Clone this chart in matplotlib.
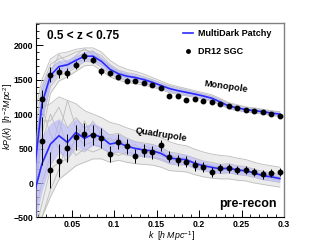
import numpy as np
import matplotlib
matplotlib.use("Agg")
import matplotlib.pyplot as plt
from matplotlib.ticker import MultipleLocator, FixedLocator

plt.rcParams['font.family'] = ['Liberation Sans', 'DejaVu Sans']
plt.rcParams['mathtext.fontset'] = 'custom'
plt.rcParams['mathtext.it'] = 'Liberation Sans:italic'
plt.rcParams['mathtext.rm'] = 'Liberation Sans'

# ---------------- data ----------------
k_model = [0.005, 0.015, 0.025, 0.035, 0.045, 0.055, 0.065, 0.075, 0.085, 0.095,
           0.105, 0.115, 0.125, 0.135, 0.145, 0.155, 0.165, 0.175, 0.185, 0.195,
           0.205, 0.215, 0.225, 0.235, 0.245, 0.255, 0.265, 0.275, 0.285, 0.295]

mono_mean = [50, 1150, 1560, 1690, 1715, 1780, 1840, 1840, 1765, 1650,
             1585, 1550, 1530, 1500, 1460, 1415, 1370, 1340, 1315, 1290,
             1262, 1230, 1175, 1115, 1090, 1065, 1050, 1035, 1015, 1000]
mono_sigma = [400, 280, 120, 90, 80, 75, 70, 70, 65, 60,
              55, 52, 50, 48, 46, 44, 42, 40, 39, 38,
              37, 36, 35, 34, 33, 32, 31, 31, 30, 30]
mono_env_hi = [900, 1500, 1800, 1880, 1900, 1940, 1960, 1960, 1900, 1780,
               1700, 1650, 1620, 1580, 1530, 1480, 1430, 1400, 1370, 1340,
               1310, 1280, 1225, 1165, 1135, 1105, 1090, 1070, 1050, 1035]
mono_env_lo = [-500, 700, 1300, 1480, 1540, 1620, 1700, 1710, 1630, 1540,
               1490, 1460, 1440, 1420, 1390, 1355, 1310, 1285, 1265, 1240,
               1215, 1185, 1135, 1075, 1050, 1030, 1015, 1000, 980, 965]
mono_mocks = [
    [600, 1400, 1720, 1800, 1840, 1900, 1930, 1900, 1850, 1720, 1640, 1600, 1580, 1540, 1500,
     1450, 1410, 1380, 1350, 1320, 1290, 1260, 1210, 1150, 1120, 1090, 1080, 1060, 1040, 1030],
    [-300, 900, 1400, 1560, 1600, 1680, 1760, 1760, 1680, 1580, 1520, 1490, 1470, 1450, 1410,
     1380, 1330, 1300, 1280, 1260, 1230, 1200, 1150, 1090, 1060, 1040, 1025, 1010, 990, 975],
    [200, 1300, 1650, 1760, 1680, 1820, 1880, 1920, 1800, 1690, 1620, 1570, 1500, 1520, 1480,
     1400, 1390, 1320, 1330, 1280, 1270, 1220, 1180, 1100, 1100, 1060, 1060, 1030, 1020, 995],
    [-100, 1000, 1500, 1620, 1760, 1740, 1800, 1790, 1720, 1620, 1560, 1530, 1550, 1480, 1440,
     1430, 1350, 1350, 1300, 1300, 1250, 1240, 1160, 1120, 1080, 1070, 1040, 1040, 1010, 1005],
    [400, 1200, 1600, 1860, 1740, 1850, 1950, 1860, 1800, 1700, 1600, 1580, 1520, 1510, 1470,
     1420, 1380, 1340, 1310, 1290, 1260, 1230, 1190, 1120, 1090, 1065, 1045, 1030, 1020, 1000],
]

quad_mean = [-190, 280, 565, 686, 589, 734, 647, 710, 662, 565,
             589, 531, 502, 478, 468, 430, 362, 348, 338, 285,
             251, 227, 205, 215, 188, 178, 145, 106, 90, 65]
quad_sigma = [500, 400, 300, 250, 220, 200, 180, 165, 150, 135,
              125, 115, 105, 100, 95, 90, 85, 80, 78, 75,
              72, 70, 68, 66, 64, 62, 60, 58, 56, 55]
quad_env_hi = [600, 1100, 1150, 1250, 1200, 1150, 1050, 1000, 950, 880,
               850, 800, 760, 720, 700, 660, 600, 560, 540, 490,
               450, 420, 400, 390, 360, 340, 300, 270, 250, 230]
quad_env_lo = [-900, -500, -200, 50, 150, 250, 300, 350, 350, 300,
               330, 300, 280, 270, 260, 230, 180, 170, 160, 120,
               90, 70, 60, 60, 40, 30, 0, -20, -40, -60]
quad_mocks = [
    [400, 900, 900, 1100, 800, 950, 800, 850, 780, 700, 720, 650, 600, 580, 560,
     520, 450, 430, 400, 360, 320, 300, 270, 280, 250, 240, 200, 170, 150, 120],
    [-800, -300, 200, 300, 350, 500, 450, 560, 520, 420, 450, 400, 390, 380, 370,
     330, 280, 260, 270, 210, 180, 150, 140, 150, 120, 110, 80, 50, 30, 10],
    [0, 600, 1000, 700, 1200, 800, 700, 900, 700, 600, 650, 560, 480, 540, 500,
     470, 380, 380, 360, 300, 280, 250, 220, 240, 200, 190, 160, 110, 100, 70],
    [-500, 0, 400, 900, 500, 600, 900, 650, 620, 650, 540, 500, 560, 430, 440,
     400, 340, 320, 320, 270, 230, 200, 180, 200, 180, 160, 130, 90, 70, 50],
    [200, 1100, 700, 500, 300, 700, 550, 600, 750, 500, 600, 580, 470, 500, 420,
     460, 390, 370, 350, 290, 260, 240, 230, 210, 200, 180, 150, 130, 110, 80],
    [-600, -500, -100, 200, 600, 400, 500, 450, 500, 450, 400, 450, 420, 400, 380,
     350, 300, 290, 300, 240, 200, 180, 170, 180, 150, 140, 110, 80, 60, 40],
]

k_data = [0.015, 0.025, 0.035, 0.045, 0.055, 0.065, 0.075, 0.085, 0.095, 0.105,
          0.115, 0.125, 0.135, 0.145, 0.155, 0.165, 0.175, 0.185, 0.195, 0.205,
          0.215, 0.225, 0.235, 0.245, 0.255, 0.265, 0.275, 0.285, 0.295]
mono_data = [1217, 1569, 1604, 1595, 1710, 1836, 1790, 1618, 1589, 1540,
             1482, 1482, 1449, 1420, 1372, 1265, 1256, 1203, 1217, 1193,
             1169, 1145, 1111, 1085, 1065, 1048, 1035, 995, 975]
mono_err = [130, 110, 80, 70, 60, 60, 55, 45, 40, 38,
            35, 33, 31, 30, 29, 28, 27, 26, 25, 24,
            24, 23, 23, 22, 22, 21, 21, 20, 20]
quad_data = [613, 188, 323, 505, 662, 705, 695, 652, 420, 599,
             531, 396, 468, 445, 545, 382, 330, 311, 255, 227,
             160, 213, 213, 188, 188, 155, 125, 140, 155]
quad_err = [350, 260, 240, 200, 180, 170, 150, 140, 120, 110,
            105, 100, 95, 90, 85, 82, 80, 78, 75, 72,
            70, 68, 66, 64, 62, 60, 60, 58, 58]

# ---------------- figure ----------------
fig = plt.figure(figsize=(3.16, 2.43), dpi=100)
ax = fig.add_axes([0.114, 0.105, 0.785, 0.800])

gray_fill = '#ececec'
gray_line = '#bdbdbd'
for env_lo, env_hi, mocks in [(mono_env_lo, mono_env_hi, mono_mocks),
                              (quad_env_lo, quad_env_hi, quad_mocks)]:
    ax.fill_between(k_model, env_lo, env_hi, color=gray_fill, lw=0, zorder=1)
    ax.plot(k_model, env_lo, color=gray_line, lw=0.6, zorder=2)
    ax.plot(k_model, env_hi, color=gray_line, lw=0.6, zorder=2)
    for m in mocks:
        ax.plot(k_model, m, color=gray_line, lw=0.6, zorder=2)

km = np.array(k_model)
for mean, sig in [(mono_mean, mono_sigma), (quad_mean, quad_sigma)]:
    mean = np.array(mean); sig = np.array(sig)
    ax.fill_between(km, mean - sig, mean + sig, color='#b4b4f7', alpha=0.6, lw=0, zorder=3)
    ax.plot(km, mean, color='#2a2aff', lw=1.2, zorder=4)

ax.errorbar(k_data, mono_data, yerr=mono_err, fmt='o', color='black', ms=3.2,
            elinewidth=0.7, capsize=0, zorder=5)
ax.errorbar(k_data, quad_data, yerr=quad_err, fmt='o', color='black', ms=3.2,
            elinewidth=0.7, capsize=0, zorder=5)

ax.set_xlim(0.008, 0.3)
ax.set_ylim(-500, 2320)

ax.xaxis.set_major_locator(FixedLocator([0.05, 0.1, 0.15, 0.2, 0.25, 0.3]))
ax.xaxis.set_minor_locator(MultipleLocator(0.01))
ax.yaxis.set_major_locator(MultipleLocator(500))
ax.yaxis.set_minor_locator(MultipleLocator(100))
ax.set_xticklabels(['0.05', '0.1', '0.15', '0.2', '0.25', '0.3'])
ax.set_yticks([-500, 0, 500, 1000, 1500, 2000])
ax.set_yticklabels(['\u2212500', '0', '500', '1000', '1500', '2000'])
ax.tick_params(which='both', direction='in', top=False, right=False, labelsize=6.3)
ax.tick_params(which='major', length=5, width=0.7)
ax.tick_params(which='minor', length=2.5, width=0.6)
ax.tick_params(axis='x', pad=2)
ax.tick_params(axis='y', pad=2)
for lab in ax.get_xticklabels() + ax.get_yticklabels():
    lab.set_fontweight('bold')

for s in ['left', 'bottom']:
    ax.spines[s].set_color('black'); ax.spines[s].set_linewidth(0.8)
for s in ['top', 'right']:
    ax.spines[s].set_color('#808080'); ax.spines[s].set_linewidth(1.0)

# texts
ax.text(0.045, 0.965, '0.5 < z < 0.75', transform=ax.transAxes, fontsize=8.5,
        fontweight='bold', ha='left', va='top')
ax.text(0.97, 0.04, 'pre-recon', transform=ax.transAxes, fontsize=9,
        fontweight='bold', ha='right', va='bottom')
ax.text(0.232, 1395, 'Monopole', fontsize=6.7, fontweight='bold', rotation=-8,
        ha='center', va='center')
ax.text(0.1555, 695, 'Quadrupole', fontsize=6.7, fontweight='bold', rotation=-9,
        ha='center', va='center')

# legend
ax.plot([0.181, 0.1926], [2174, 2174], color='#2a2aff', lw=1.2, zorder=6)
ax.plot([0.1868], [1913], 'o', color='black', ms=2.5, zorder=6)
ax.text(0.1985, 2174, 'MultiDark Patchy', fontsize=6.5, fontweight='bold', va='center', ha='left')
ax.text(0.1985, 1913, 'DR12 SGC', fontsize=6.5, fontweight='bold', va='center', ha='left')

fig.text(0.026, 0.52, r'$kP_\ell(k)$  $[h^{-2}Mpc^{2}]$', rotation=90, fontsize=6.3,
         ha='center', va='center')
fig.text(0.617, 0.0, r'$k$  $[h\ Mpc^{-1}]$', fontsize=6.3, ha='right', va='bottom')

fig.savefig('out.png', dpi=100)
